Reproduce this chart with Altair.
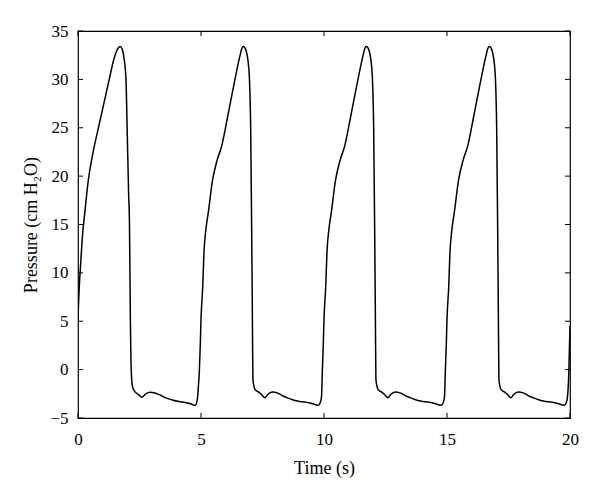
import altair as alt
import pandas as pd

# ---- data (time in s, pressure in cm H2O) ----
c1_t = [0.00, 0.05, 0.11, 0.18, 0.28, 0.42, 0.60, 0.83, 1.05, 1.27, 1.45, 1.60, 1.71, 1.80, 1.87,
        1.95, 2.00, 2.06, 2.09, 2.13, 2.17, 2.22, 2.32, 2.45, 2.59, 2.75, 2.93, 3.10, 3.35, 3.60,
        3.87, 4.10, 4.35, 4.60, 4.76, 4.85, 4.90]
c1_p = [5.5, 8.5, 11.0, 13.8, 16.3, 19.6, 22.3, 25.0, 27.5, 30.0, 32.0, 33.1, 33.4, 33.1, 32.2,
        30.0, 24.7, 18.0, 15.5, 5.0, -0.5, -1.8, -2.3, -2.55, -2.86, -2.5, -2.34, -2.4, -2.65, -2.95,
        -3.17, -3.3, -3.4, -3.55, -3.7, -3.1, -1.5]

c2_t = [4.93, 4.97, 5.00, 5.07, 5.12, 5.20, 5.30, 5.47, 5.65, 5.84, 6.11, 6.38, 6.58, 6.66, 6.72,
        6.80, 6.86, 6.93, 6.97, 7.02, 7.06, 7.09, 7.11, 7.16, 7.20, 7.33, 7.45, 7.60, 7.70, 7.80,
        7.90, 8.10, 8.35, 8.60, 8.82, 9.00, 9.23, 9.50, 9.77, 9.85, 9.90]
c2_p = [-0.35, 2.5, 5.2, 8.6, 12.1, 14.5, 16.3, 19.6, 21.6, 23.1, 26.5, 30.0, 32.4, 33.2, 33.4,
        33.2, 32.7, 31.5, 30.0, 24.8, 14.5, 5.0, -1.0, -1.8, -2.07, -2.3, -2.55, -2.9, -2.6, -2.4,
        -2.3, -2.4, -2.75, -3.0, -3.2, -3.3, -3.34, -3.5, -3.68, -3.4, -2.75]

c3_t = [9.93, 9.97, 10.00, 10.07, 10.12, 10.20, 10.30, 10.47, 10.65, 10.84, 11.11, 11.38, 11.58, 11.66, 11.72,
        11.80, 11.86, 11.93, 11.97, 12.02, 12.06, 12.09, 12.11, 12.16, 12.20, 12.33, 12.45, 12.60, 12.70, 12.80,
        12.90, 13.10, 13.35, 13.60, 13.82, 14.00, 14.23, 14.50, 14.77, 14.85, 14.90]
c3_p = [-0.35, 2.5, 5.2, 8.6, 12.1, 14.5, 16.3, 19.6, 21.6, 23.1, 26.5, 30.0, 32.4, 33.2, 33.4,
        33.2, 32.7, 31.5, 30.0, 24.8, 14.5, 5.0, -1.0, -1.8, -2.07, -2.3, -2.55, -2.9, -2.6, -2.4,
        -2.3, -2.4, -2.75, -3.0, -3.2, -3.3, -3.34, -3.5, -3.68, -3.4, -2.75]

c4_t = [14.93, 14.97, 15.00, 15.07, 15.12, 15.20, 15.30, 15.47, 15.65, 15.84, 16.11, 16.38, 16.58, 16.66, 16.72,
        16.80, 16.86, 16.93, 16.97, 17.02, 17.06, 17.09, 17.11, 17.16, 17.20, 17.33, 17.45, 17.60, 17.70, 17.80,
        17.90, 18.10, 18.35, 18.60, 18.82, 19.00, 19.23, 19.50, 19.77, 19.85, 19.90, 19.95, 20.00]
c4_p = [-0.35, 2.5, 5.2, 8.6, 12.1, 14.5, 16.3, 19.6, 21.6, 23.1, 26.5, 30.0, 32.4, 33.2, 33.4,
        33.2, 32.7, 31.5, 30.0, 24.8, 14.5, 5.0, -1.0, -1.8, -2.07, -2.3, -2.55, -2.9, -2.6, -2.4,
        -2.3, -2.4, -2.75, -3.0, -3.2, -3.3, -3.34, -3.5, -3.68, -3.4, -2.75, -0.5, 4.5]

x_ticks = [0, 5, 10, 15, 20]
y_ticks = [-5, 0, 5, 10, 15, 20, 25, 30, 35]

# ---- chart ----
df = pd.DataFrame({"t": c1_t + c2_t + c3_t + c4_t, "p": c1_p + c2_p + c3_p + c4_p})
xt = pd.DataFrame({"t": x_ticks})
yt = pd.DataFrame({"p": y_ticks})

W, H = 492, 387
TL = 5
FONT = "Liberation Serif"
xs = alt.Scale(domain=[0, 20], nice=False, zero=False)
ys = alt.Scale(domain=[-5, 35], nice=False, zero=False)
x_axis = alt.Axis(title="Time (s)", values=x_ticks, ticks=False, tickSize=0, labelFlush=False,
                  domain=False, grid=False, labelPadding=13, titlePadding=12)
y_axis = alt.Axis(title="Pressure (cm H₂O)", values=y_ticks, ticks=False, tickSize=0, labelFlush=False,
                  domain=False, grid=False, labelPadding=10, titlePadding=9)

line = alt.Chart(df).mark_line(color="black", strokeWidth=1.5, interpolate="monotone", clip=True).encode(
    x=alt.X("t:Q", scale=xs, axis=x_axis),
    y=alt.Y("p:Q", scale=ys, axis=y_axis),
)

bottom_ticks = alt.Chart(xt).mark_rule(color="black", strokeWidth=1).encode(
    x=alt.X("t:Q", scale=xs, axis=x_axis), y=alt.value(H), y2=alt.value(H - TL))
top_ticks = alt.Chart(xt).mark_rule(color="black", strokeWidth=1).encode(
    x=alt.X("t:Q", scale=xs, axis=x_axis), y=alt.value(0), y2=alt.value(TL))
left_ticks = alt.Chart(yt).mark_rule(color="black", strokeWidth=1).encode(
    y=alt.Y("p:Q", scale=ys, axis=y_axis), x=alt.value(0), x2=alt.value(TL))
right_ticks = alt.Chart(yt).mark_rule(color="black", strokeWidth=1).encode(
    y=alt.Y("p:Q", scale=ys, axis=y_axis), x=alt.value(W), x2=alt.value(W - TL))

chart = alt.layer(line, bottom_ticks, top_ticks, left_ticks, right_ticks).properties(
    width=W, height=H,
    autosize=alt.AutoSizeParams(type="none"),
    padding={"left": 70, "top": 23, "right": 22, "bottom": 73},
    background="white",
).configure_view(
    stroke="black", strokeWidth=1.2
).configure_axis(
    labelFont=FONT, titleFont=FONT, labelFontSize=17, titleFontSize=18,
    titleFontWeight="normal", labelColor="black", titleColor="black",
)

chart.save("out.html", embed_options={"renderer": "svg", "actions": False})
